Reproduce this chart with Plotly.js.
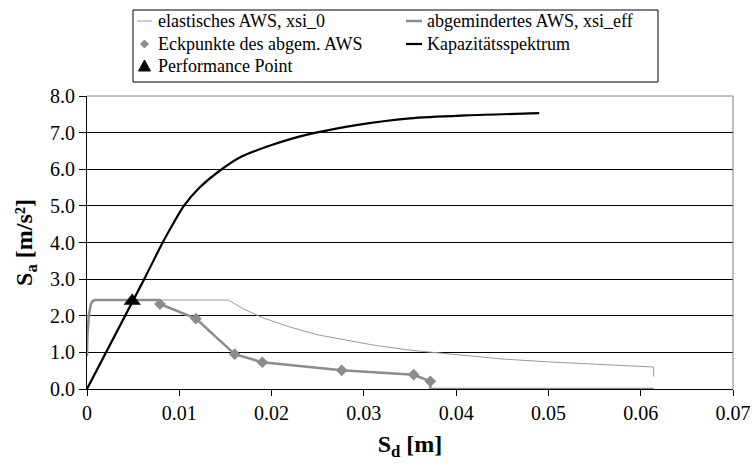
<!DOCTYPE html>
<html>
<head>
<meta charset="utf-8">
<script src="https://cdn.plot.ly/plotly-3.0.1.min.js"></script>
<style>html,body{margin:0;padding:0;background:#fff;}</style>
</head>
<body>
<div id="chart" style="width:754px;height:471px;"></div>
<script>
// Elastic response spectrum (xsi_0)
const elasticSd = [0, 0.00005, 0.0002, 0.0004, 0.0006, 0.0009, 0.0153, 0.017, 0.019, 0.022, 0.025, 0.028, 0.031, 0.035, 0.040, 0.045, 0.050, 0.055, 0.0614, 0.0614];
const elasticSa = [0.90, 1.50, 2.00, 2.30, 2.40, 2.43, 2.43, 2.18, 1.95, 1.69, 1.48, 1.33, 1.20, 1.06, 0.93, 0.82, 0.74, 0.67, 0.60, 0.34];

// Reduced response spectrum (xsi_eff)
const reducedSd = [0, 0.00005, 0.0002, 0.0004, 0.0006, 0.0009, 0.0077, 0.0079, 0.0118, 0.0160, 0.0190, 0.0276, 0.0354, 0.0372, 0.0372, 0.0614];
const reducedSa = [0.90, 1.50, 2.00, 2.30, 2.40, 2.43, 2.43, 2.32, 1.92, 0.95, 0.73, 0.51, 0.39, 0.21, 0.0, 0.0];

// Corner points of the reduced spectrum
const cornerSd = [0.0079, 0.0118, 0.0160, 0.0190, 0.0276, 0.0354, 0.0372];
const cornerSa = [2.32, 1.92, 0.95, 0.73, 0.51, 0.39, 0.21];

// Capacity spectrum
const capSd = [0, 0.0062, 0.0082, 0.0093, 0.0105, 0.0122, 0.0146, 0.0167, 0.0200, 0.0230, 0.0248, 0.0290, 0.0350, 0.0411, 0.0490];
const capSa = [0, 3.00, 4.00, 4.50, 5.00, 5.50, 6.00, 6.34, 6.66, 6.89, 7.00, 7.20, 7.39, 7.47, 7.53];

// Performance point
const ppSd = [0.0049];
const ppSa = [2.40];

const seriesNames = ["elastisches AWS, xsi_0", "abgemindertes AWS, xsi_eff", "Eckpunkte des abgem. AWS", "Kapazitätsspektrum", "Performance Point"];
const xTickVals = [0, 0.01, 0.02, 0.03, 0.04, 0.05, 0.06, 0.07];
const xTickText = ["0", "0.01", "0.02", "0.03", "0.04", "0.05", "0.06", "0.07"];

const FONT = "Liberation Serif";
const W = 754, H = 471;
const M = {l: 87, r: 21, t: 96, b: 82};
const PW = W - M.l - M.r, PH = H - M.t - M.b;
const px = v => (v - M.l) / PW;           // pixel x -> paper x
const py = v => (H - M.b - v) / PH;       // pixel y -> paper y

const styles = [
  {color: "#999999", width: 1},
  {color: "#8c8c8c", width: 2.5},
  {color: "#8c8c8c", size: 9},
  {color: "#000000", width: 2.2},
  {color: "#000000", size: 15}
];

const traces = [
  {x: elasticSd, y: elasticSa, name: seriesNames[0], mode: "lines",
   line: {color: styles[0].color, width: styles[0].width}},
  {x: reducedSd, y: reducedSa, name: seriesNames[1], mode: "lines",
   line: {color: styles[1].color, width: styles[1].width}},
  {x: cornerSd, y: cornerSa, name: seriesNames[2], mode: "markers",
   marker: {symbol: "diamond", size: styles[2].size, color: styles[2].color}},
  {x: capSd, y: capSa, name: seriesNames[3], mode: "lines",
   line: {color: styles[3].color, width: styles[3].width, shape: "spline", smoothing: 0.8}},
  {x: ppSd, y: ppSa, name: seriesNames[4], mode: "markers",
   marker: {symbol: "triangle-up", size: styles[4].size, color: styles[4].color}}
];
traces.forEach(t => { t.showlegend = false; });

// Legend box (drawn manually to match the reference's compact layout)
const box = {x0: 133, x1: 658, y0: 10, y1: 82};
const rows = [21, 44, 66];
const col = [{s0: 137, s1: 152, t: 156}, {s0: 406, s1: 422, t: 425}];
const entries = [
  {name: seriesNames[0], c: 0, r: 0, kind: "line", st: styles[0]},
  {name: seriesNames[1], c: 1, r: 0, kind: "line", st: styles[1]},
  {name: seriesNames[2], c: 0, r: 1, kind: "diamond", st: styles[2]},
  {name: seriesNames[3], c: 1, r: 1, kind: "line", st: styles[3]},
  {name: seriesNames[4], c: 0, r: 2, kind: "triangle", st: styles[4]}
];

const shapes = [
  {type: "line", xref: "paper", yref: "paper", x0: 0, x1: 1, y0: 1, y1: 1, line: {color: "#808080", width: 1}},
  {type: "line", xref: "paper", yref: "paper", x0: 1, x1: 1, y0: 0, y1: 1, line: {color: "#808080", width: 1}},
  {type: "rect", xref: "paper", yref: "paper", x0: px(box.x0), x1: px(box.x1), y0: py(box.y1), y1: py(box.y0),
   line: {color: "#000000", width: 1}, fillcolor: "#ffffff", layer: "above"}
];
const annotations = [];
entries.forEach(e => {
  const c = col[e.c], y = rows[e.r], cx = (c.s0 + c.s1) / 2;
  if (e.kind === "line") {
    shapes.push({type: "line", xref: "paper", yref: "paper", x0: px(c.s0), x1: px(c.s1), y0: py(y), y1: py(y),
      line: {color: e.st.color, width: e.st.width}, layer: "above"});
  } else if (e.kind === "diamond") {
    const r = 4;
    shapes.push({type: "path", xref: "paper", yref: "paper", layer: "above",
      path: `M${px(cx)},${py(y - r)} L${px(cx + r)},${py(y)} L${px(cx)},${py(y + r)} L${px(cx - r)},${py(y)} Z`,
      fillcolor: e.st.color, line: {color: e.st.color, width: 1}});
  } else {
    const r = 6;
    shapes.push({type: "path", xref: "paper", yref: "paper", layer: "above",
      path: `M${px(cx)},${py(y - r)} L${px(cx + r)},${py(y + r - 1)} L${px(cx - r)},${py(y + r - 1)} Z`,
      fillcolor: e.st.color, line: {color: e.st.color, width: 1}});
  }
  annotations.push({xref: "paper", yref: "paper", x: px(c.t), y: py(y), xanchor: "left", yanchor: "middle",
    text: e.name, showarrow: false, font: {family: FONT, size: 18, color: "#000000"}});
});

const layout = {
  width: W, height: H,
  margin: M,
  paper_bgcolor: "#ffffff", plot_bgcolor: "#ffffff",
  font: {family: FONT, color: "#000000", size: 18},
  showlegend: false,
  xaxis: {
    range: [0, 0.07], tickvals: xTickVals, ticktext: xTickText,
    ticks: "outside", ticklen: 6, tickcolor: "#000000", tickwidth: 1,
    showline: true, linecolor: "#000000", linewidth: 1,
    showgrid: false, zeroline: false,
    tickfont: {family: FONT, size: 20, color: "#000000"},
    title: {text: "<b>S<sub>d</sub> [m]</b>", font: {family: FONT, size: 24, color: "#000000"}, standoff: 12}
  },
  yaxis: {
    range: [0, 8], dtick: 1, tick0: 0, tickformat: ".1f",
    ticks: "outside", ticklen: 7, tickcolor: "#000000", tickwidth: 1,
    showline: true, linecolor: "#000000", linewidth: 1,
    showgrid: true, gridcolor: "#000000", gridwidth: 1, zeroline: false,
    tickfont: {family: FONT, size: 20, color: "#000000"},
    title: {text: "<b>S<sub>a</sub> [m/s²]</b>", font: {family: FONT, size: 24, color: "#000000"}, standoff: 10}
  },
  shapes: shapes,
  annotations: annotations
};

Plotly.newPlot("chart", traces, layout, {displayModeBar: false, staticPlot: true});
</script>
</body>
</html>
